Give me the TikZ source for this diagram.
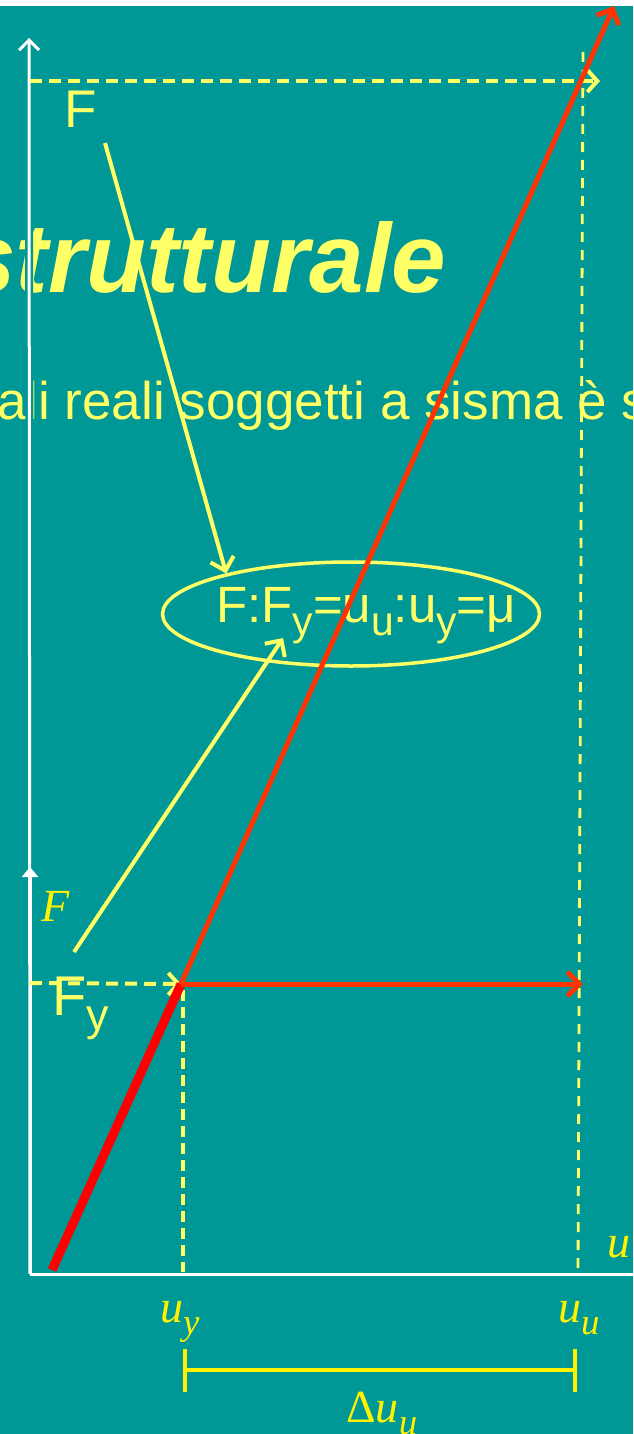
\documentclass[tikz,border=0pt]{standalone}
\usepackage{fontspec}
\setmainfont{Liberation Sans}
\newfontfamily\timesfont{Liberation Serif}
\usetikzlibrary{arrows.meta,calc,positioning,shapes.geometric}
\definecolor{slideteal}{RGB}{0,151,151}
\definecolor{paleyellow}{RGB}{255,255,102}
\definecolor{curvered}{RGB}{255,51,0}
\definecolor{plastred}{RGB}{255,0,0}
\newcommand{\sbs}[1]{\raisebox{-0.27em}{\scalebox{0.8}{#1}}}

\begin{document}
\begin{tikzpicture}[x=1pt,y=-1pt,>=Latex,
    axis/.style={white,line width=3pt},
    guide/.style={paleyellow,line width=4pt,dash pattern=on 12pt off 7pt},
    thinguide/.style={paleyellow,line width=2.8pt,dash pattern=on 10pt off 8pt},
    pointer/.style={paleyellow,line width=4pt,-{Straight Barb[length=12pt,width=24pt]}},
    slidetext/.style={inner sep=0pt,paleyellow},
    symlabel/.style={inner sep=0pt,yellow,font=\timesfont\itshape\fontsize{46}{50}\selectfont}]
  \useasboundingbox (0,0) rectangle (633,1434);
  \clip (0,0) rectangle (633,1434);
  \fill[white] (0,0) rectangle (633,6);
  \fill[slideteal] (0,6) rectangle (633,1434);

  % testo della slide sotto il grafico
  \node[slidetext,anchor=base east,font=\fontsize{98}{100}\selectfont\bfseries\itshape] (title) at (446,292) {strutturale};
  \node[slidetext,anchor=base west,font=\fontsize{53}{60}\selectfont] (subtitle) at (-3,419) {ali reali soggetti a sisma è s};

  % punti del diagramma
  \coordinate (O) at (30,1274);
  \coordinate (Y) at (181,984);
  \coordinate (U) at (583,984);
  \coordinate (redFoot) at (52,1270);
  \coordinate (redTop) at (614,6);

  % assi
  \draw[slideteal,line width=8pt] (O) -- (29,50);
  \draw[axis,-{Straight Barb[length=10pt,width=20pt]}] (O) -- (29,38);
  \draw[axis,-{Triangle[length=10pt,width=16pt]}] (O) -- (30,867);
  \draw[axis,-{Triangle[length=10pt,width=18pt]}] (O) -- (643,1274);

  % linee di richiamo
  \draw[guide,-{Straight Barb[length=10pt,width=22pt]}] (30,81) -- (600,81);
  \draw[thinguide] (583,52) -- (578,1272);
  \draw[guide,-{Straight Barb[length=10pt,width=22pt]}] (30,983) -- (Y);
  \draw[guide,dash pattern=on 11pt off 6pt] (183,990) -- (183,1272);

  % etichette
  \node[slidetext,anchor=base west,font=\fontsize{53}{60}\selectfont] (fLabel) at (64,128) {F};
  \node[slidetext,anchor=base west,font=\fontsize{56}{60}\selectfont] (fyLabel) at (52,1015) {F\sbs{y}};
  \node[symlabel,anchor=base west] (fAxis) at (41,921) {F};
  \node[symlabel,anchor=base west] (uyLabel) at (160,1322) {u\sbs{y}};
  \node[symlabel,anchor=base west] (uuLabel) at (558,1322) {u\sbs{u}};
  \node[symlabel,anchor=base west] (uLabel) at (607,1257) {u};
  \node[symlabel,anchor=base west] (duLabel) at (346,1422) {{\upshape Δ}u\sbs{u}};

  % rapporto di duttilita'
  \node[draw=paleyellow,line width=3.5pt,ellipse,minimum width=377pt,minimum height=104pt] (ratio) at (351,614) {};
  \node[slidetext,anchor=base west,font=\fontsize{51}{55}\selectfont] (ratioText) at (216,622) {F:F\sbs{y}=u\sbs{u}:u\sbs{y}=μ};
  \coordinate (fTail) at (105,143);
  \coordinate (fyTail) at (74,952);
  \coordinate (fyTip) at (283,638);
  \draw[pointer] (fTail) -- (ratio.162);
  \draw[pointer] (fyTail) -- (fyTip);

  % ampiezza del tratto plastico
  \draw[yellow,line width=4pt,{Bar[width=43pt]}-{Bar[width=43pt]}] (183,1370) -- (577,1370);

  % legame forza-spostamento
  \draw[plastred,line width=9pt] (redFoot) -- (Y);
  \draw[curvered,line width=5pt,-{Straight Barb[length=12pt,width=24pt]}] (Y) -- (redTop);
  \draw[curvered,line width=5pt,-{Straight Barb[length=12pt,width=24pt]}] (Y) -- (U);
\end{tikzpicture}
\end{document}
